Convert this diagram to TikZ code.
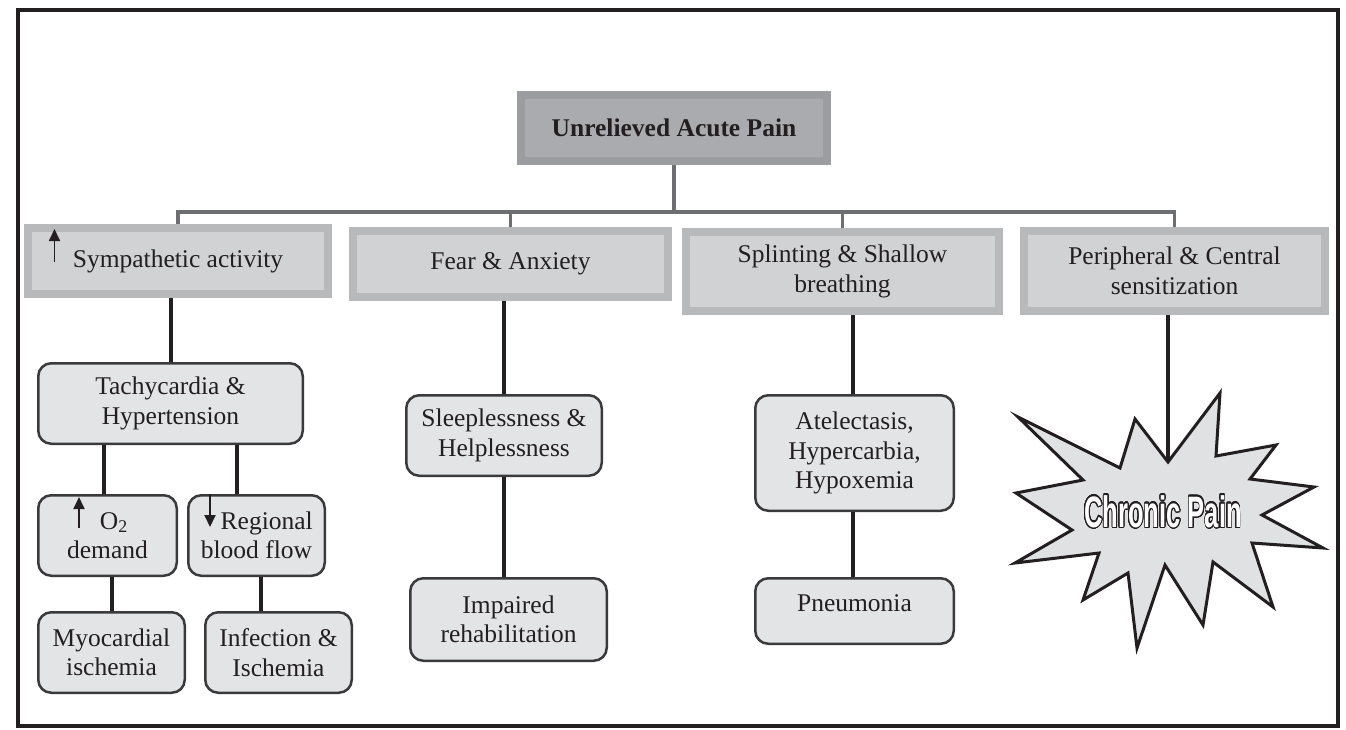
\documentclass[tikz,border=0pt]{standalone}
\usepackage{fontspec}
\setmainfont{Liberation Serif}
\newfontfamily\burstfont{Liberation Sans}
\usepackage{contour}
\contourlength{1.3pt}
\contournumber{32}
\usetikzlibrary{arrows.meta}

\definecolor{ink}{HTML}{231F20}
\definecolor{hdFill}{HTML}{AAABAE}
\definecolor{hdBorder}{HTML}{9C9DA0}
\definecolor{catFill}{HTML}{D1D2D4}
\definecolor{catBorder}{HTML}{B8B9BB}
\definecolor{effFill}{HTML}{E3E4E6}
\definecolor{effEdge}{HTML}{3A3A3C}
\definecolor{busGray}{HTML}{6D6E71}
\definecolor{burstFill}{HTML}{E0E1E3}

\begin{document}
\begin{tikzpicture}[x=1pt, y=-1pt,
  font=\fontsize{25.5}{29.5}\selectfont,
  headbox/.style={draw=hdBorder, fill=hdFill, line width=8pt, inner sep=0pt,
    align=center, text=ink, font=\fontsize{25.5}{29.5}\selectfont\bfseries},
  catbox/.style={draw=catBorder, fill=catFill, line width=8pt, inner sep=0pt,
    align=center, text=ink},
  effbox/.style={draw=effEdge, fill=effFill, line width=2.5pt, rounded corners=13pt,
    inner sep=0pt, align=center, text=ink},
  bus/.style={draw=busGray, line width=3.5pt},
  link/.style={draw=ink, line width=4pt},
  tick/.style={draw=ink, line width=1.8pt, -{Triangle[length=12pt,width=11pt]}},
  burst/.style={draw=ink, fill=burstFill, line width=3pt, line join=miter},
  frame/.style={draw=ink, line width=4pt}
]
\useasboundingbox (0,0) rectangle (1346,729);
\fill[white] (0,0) rectangle (1346,729);
\draw[frame] (18,10) rectangle (1338,726);

% level 0 and level 1 boxes
\node[headbox, minimum width=306pt, minimum height=66pt] (top) at (674,128) {Unrelieved Acute Pain};
\node[catbox, minimum width=300pt, minimum height=66pt] (symp) at (178,261) {Sympathetic activity};
\node[catbox, minimum width=315pt, minimum height=66pt] (fear) at (510.5,264) {Fear \& Anxiety};
\node[catbox, minimum width=313pt, minimum height=79pt] (splint) at (842.5,271.5) {Splinting \& Shallow\\breathing};
\node[catbox, minimum width=301pt, minimum height=80pt] (periph) at (1174.5,271) {Peripheral \& Central\\sensitization};

% consequence boxes
\node[effbox, minimum width=264.5pt, minimum height=80.5pt] (tachy) at (170.5,403.5) {Tachycardia \&\\Hypertension};
\node[effbox, minimum width=138.5pt, minimum height=80.5pt] (otwo) at (107.5,535.5) {\hspace*{0.5em}O\textsubscript{2}\\demand};
\node[effbox, minimum width=136.5pt, minimum height=80.5pt] (reg) at (256.5,535.5) {\hspace*{0.8em}Regional\\blood flow};
\node[effbox, minimum width=146.5pt, minimum height=80.5pt] (myo) at (111.5,652.5) {Myocardial\\ischemia};
\node[effbox, minimum width=146.5pt, minimum height=80.5pt] (infect) at (278.5,652.5) {Infection \&\\Ischemia};
\node[effbox, minimum width=195.5pt, minimum height=80.5pt] (sleep) at (504,435.5) {Sleeplessness \&\\Helplessness};
\node[effbox, minimum width=196.5pt, minimum height=82.5pt] (impair) at (508.5,619.5) {Impaired\\rehabilitation};
\node[effbox, minimum width=198.5pt, minimum height=115.5pt] (atel) at (854.5,453) {Atelectasis,\\Hypercarbia,\\Hypoxemia};
\node[effbox, minimum width=198.5pt, minimum height=65.5pt] (pneu) at (854.5,611) {\raisebox{16pt}{Pneumonia}};

% branching bus under the top box
\coordinate (busY) at (0,212);
\draw[bus] (top.south) -- (top.south |- busY);
\draw[bus] (symp.north) -- (symp.north |- busY) -- (periph.north |- busY) -- (periph.north);
\draw[bus] (fear.north) -- (fear.north |- busY);
\draw[bus] (splint.north) -- (splint.north |- busY);

% vertical links
\draw[link] (tachy.north) -- (tachy.north |- symp.south);
\draw[link] ([xshift=-3.5pt]otwo.north) -- ([xshift=-3.5pt]otwo.north |- tachy.south);
\draw[link] ([xshift=-19.5pt]reg.north) -- ([xshift=-19.5pt]reg.north |- tachy.south);
\draw[link] (myo.north) -- (myo.north |- otwo.south);
\draw[link] ([xshift=-17.5pt]infect.north) -- ([xshift=-17.5pt]infect.north |- reg.south);
\draw[link] (sleep.north) -- (sleep.north |- fear.south);
\draw[link] (sleep.south) -- (sleep.south |- impair.north);
\draw[link] ([xshift=-1.5pt]atel.north) -- ([xshift=-1.5pt]atel.north |- splint.south);
\draw[link] ([xshift=-1.5pt]atel.south) -- ([xshift=-1.5pt]atel.south |- pneu.north);

% increase / decrease marks
\draw[tick] (54.5,262) -- (54.5,229);
\draw[tick] (79,528) -- (79,497);
\draw[tick] (210,494) -- (210,527);

% chronic pain burst
\coordinate (notch) at (1168,462);
\draw[link] (notch |- periph.south) -- (notch);
\draw[burst] (1018,417) -- (1120,468) -- (1135,419) -- (notch) -- (1220,393)
  -- (1216,456) -- (1276,445) -- (1250,479) -- (1314,487) -- (1262,515)
  -- (1323,548) -- (1252,543) -- (1273,607) -- (1213,562) -- (1203,625)
  -- (1165,565) -- (1137,648) -- (1128,573) -- (1083,600) -- (1099,553)
  -- (1015,563) -- (1072,530) -- (1016,493) -- (1083,480) -- cycle;
\node[inner sep=0pt] (chronic) at (1163,512)
  {\scalebox{0.58}[1]{\fontsize{44}{44}\selectfont\burstfont\bfseries\color{white}\contour{ink}{Chronic Pain}}};
\end{tikzpicture}
\end{document}
